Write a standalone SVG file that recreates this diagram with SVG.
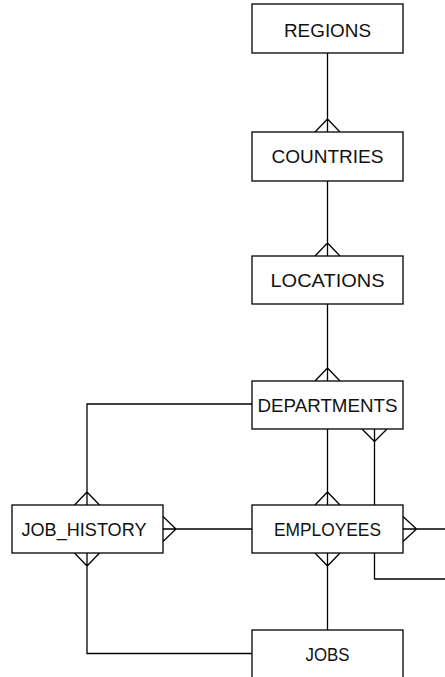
<svg xmlns="http://www.w3.org/2000/svg" width="445" height="677" viewBox="0 0 445 677">
<style>
.box{fill:#fff;stroke:#000;stroke-width:1.3}
.lbl{font-family:"Liberation Sans",Arial,sans-serif;font-size:18px;fill:#111;text-anchor:middle}
.c{fill:none;stroke:#000;stroke-width:1.3}
</style>
<rect width="445" height="677" fill="#fff"/>
<g id="connectors">
<path class="c" d="M327.5 53V132M315 132L327.5 119L340 132"/>
<path class="c" d="M327.5 181V256M315 256L327.5 243L340 256"/>
<path class="c" d="M327.5 304V381M315 381L327.5 368L340 381"/>
<path class="c" d="M327.5 429V505M315 505L327.5 492L340 505"/>
<path class="c" d="M374.5 429V505M362 429L374.5 441.5L387 429"/>
<path class="c" d="M252 404H87V505M74.5 505L87 492L99.5 505"/>
<path class="c" d="M252 529H163M163 516.5L176 529L163 541.5"/>
<path class="c" d="M252 653.5H87V553M74.5 553L87 566L99.5 553"/>
<path class="c" d="M327.5 630V553M315 553L327.5 566L340 553"/>
<path class="c" d="M403 529H450M403 516.5L416.5 529L403 541.5"/>
<path class="c" d="M374.5 553V579H450"/>
</g>
<g id="regions"><rect class="box" x="252" y="4" width="151" height="49"/><text class="lbl" x="327.5" y="37" textLength="87" lengthAdjust="spacingAndGlyphs">REGIONS</text></g>
<g id="countries"><rect class="box" x="252" y="132" width="151" height="49"/><text class="lbl" x="327.5" y="163" textLength="112" lengthAdjust="spacingAndGlyphs">COUNTRIES</text></g>
<g id="locations"><rect class="box" x="252" y="256" width="151" height="48"/><text class="lbl" x="327.5" y="287" textLength="114" lengthAdjust="spacingAndGlyphs">LOCATIONS</text></g>
<g id="departments"><rect class="box" x="252" y="381" width="151" height="48"/><text class="lbl" x="327.5" y="412" textLength="140" lengthAdjust="spacingAndGlyphs">DEPARTMENTS</text></g>
<g id="job_history"><rect class="box" x="12" y="505" width="151" height="48"/><text class="lbl" x="84" y="536" textLength="125" lengthAdjust="spacingAndGlyphs">JOB_HISTORY</text></g>
<g id="employees"><rect class="box" x="252" y="505" width="151" height="48"/><text class="lbl" x="327.5" y="536" textLength="107" lengthAdjust="spacingAndGlyphs">EMPLOYEES</text></g>
<g id="jobs"><rect class="box" x="252" y="630" width="151" height="50"/><text class="lbl" x="327.5" y="661" textLength="44" lengthAdjust="spacingAndGlyphs">JOBS</text></g>
</svg>
